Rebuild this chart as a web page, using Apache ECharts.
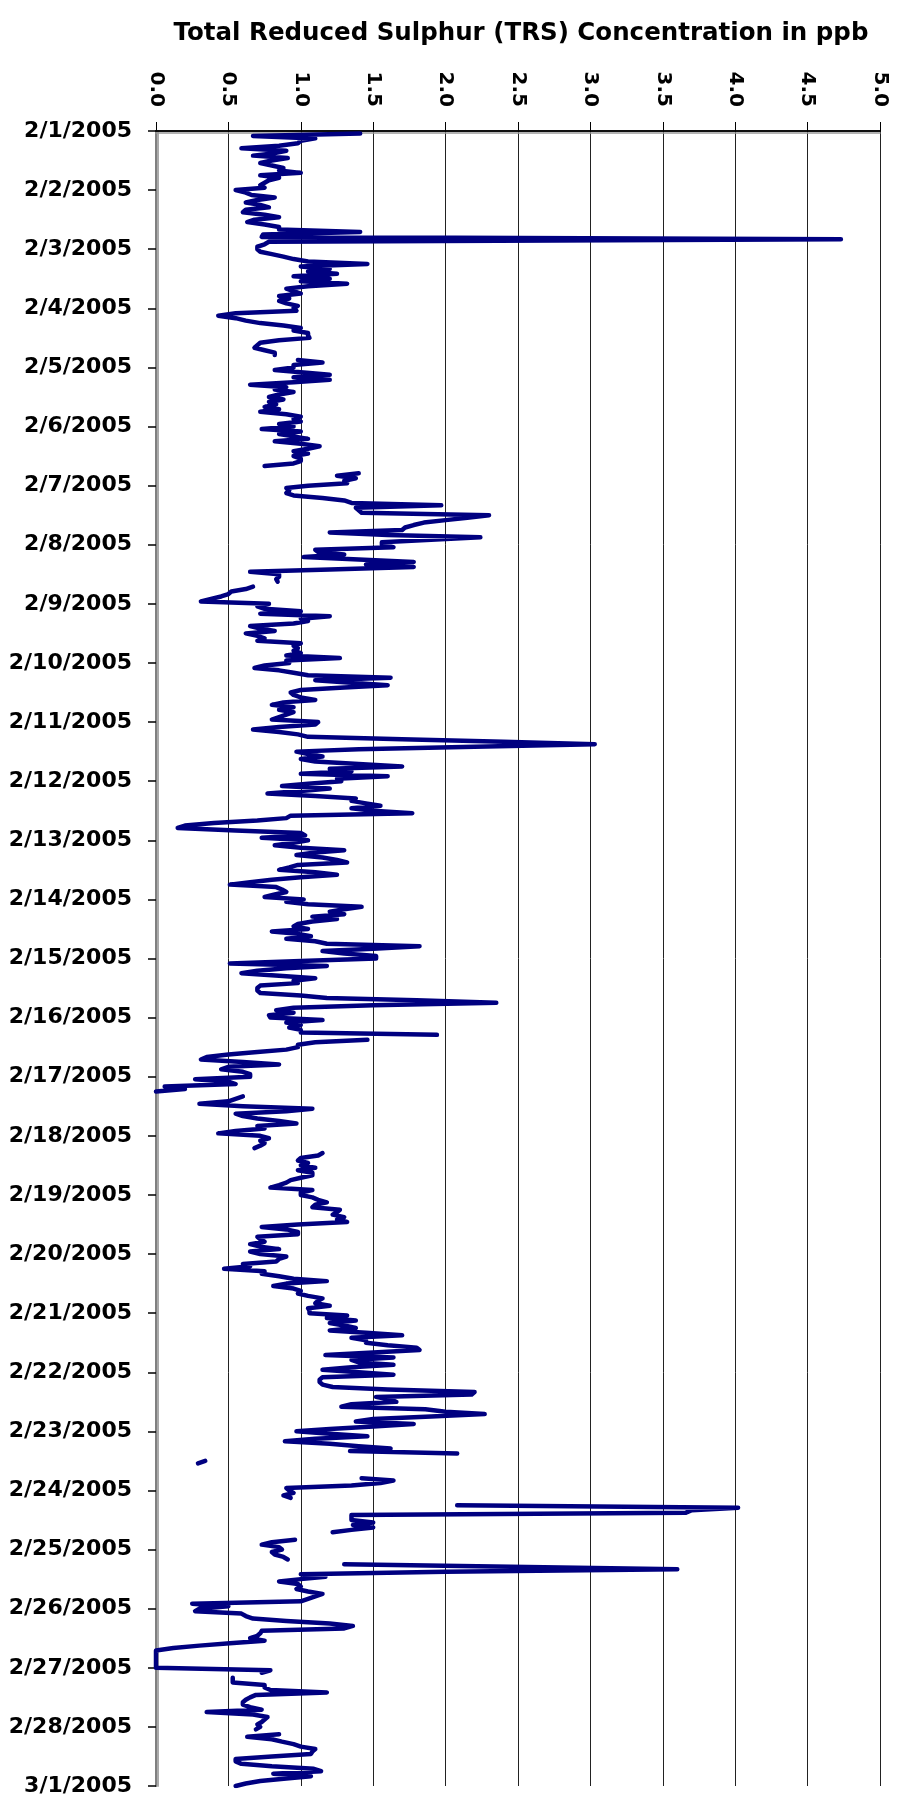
<!DOCTYPE html>
<html><head><meta charset="utf-8">
<script src="https://cdn.jsdelivr.net/npm/echarts@6/dist/echarts.min.js"></script>
<style>html,body{margin:0;padding:0;background:#fff}#chart{width:898px;height:1797px}</style>
</head><body><div id="chart"></div>
<script>
// Tick labels
const dateLabels = ['2/1/2005','2/2/2005','2/3/2005','2/4/2005','2/5/2005','2/6/2005','2/7/2005','2/8/2005','2/9/2005','2/10/2005','2/11/2005','2/12/2005','2/13/2005','2/14/2005','2/15/2005','2/16/2005','2/17/2005','2/18/2005','2/19/2005','2/20/2005','2/21/2005','2/22/2005','2/23/2005','2/24/2005','2/25/2005','2/26/2005','2/27/2005','2/28/2005','3/1/2005'];
const ppbLabels = ['0.0','0.5','1.0','1.5','2.0','2.5','3.0','3.5','4.0','4.5','5.0'];

// Hourly TRS values (ppb), one array per day, hour 0..23 ('-' = no data)
const d01 = ['-',1.41,0.67,1.1,1.0,0.98,0.85,0.59,0.9,0.82,0.67,0.91,0.8,0.72,0.8,0.88,0.85,1.0,0.72,0.85,0.78,0.75,0.72,0.75];
const d02 = [0.55,0.62,0.66,0.82,0.7,0.62,0.72,0.78,0.62,0.6,0.75,0.85,0.68,0.63,0.75,0.85,0.85,1.41,0.74,0.73,4.73,0.78,0.75,0.7];
const d03 = [0.7,0.72,0.8,0.88,0.95,1.05,1.46,1.0,1.2,1.05,1.25,0.95,1.2,1.0,1.32,1.05,0.9,0.95,1.0,0.85,0.92,0.85,0.9,0.98];
const d04 = [0.95,0.97,0.55,0.43,0.55,0.62,0.72,0.88,1.0,0.95,1.05,1.05,1.06,0.85,0.72,0.7,0.68,0.75,0.82,0.82,'-',0.98,1.15,0.95];
const d05 = [0.95,0.82,1.0,1.2,0.95,1.2,0.95,0.65,0.9,0.82,0.95,0.85,0.78,0.88,0.78,0.83,0.75,0.85,0.72,0.9,1.0,0.95,1.0,0.85];
const d06 = [0.95,0.73,1.0,0.85,0.95,1.05,0.82,1.0,1.13,1.05,0.95,1.05,0.95,1.0,1.0,0.95,0.75,'-','-',1.4,1.25,1.38,1.3,1.32];
const d07 = [1.05,0.9,0.92,0.9,0.95,1.15,1.3,1.35,1.97,1.38,1.4,1.42,2.3,2.15,2.0,1.85,1.78,1.72,1.7,1.2,1.6,2.24,1.9,1.56];
const d08 = [1.56,1.64,1.1,1.12,1.3,1.02,1.4,1.78,1.45,1.78,1.2,0.65,0.85,0.85,0.83,0.84,'-',0.67,0.62,0.52,0.5,0.45,0.38,0.31];
const d09 = [0.78,0.7,0.75,1.0,0.72,1.2,1.0,1.05,0.95,0.65,0.72,0.82,0.62,0.7,0.75,0.7,1.0,0.95,0.98,0.95,1.0,0.9,1.27,0.9];
const d10 = [0.92,0.75,0.68,0.85,0.95,1.05,1.62,1.1,1.35,1.6,1.3,1.0,0.93,0.95,1.0,1.1,0.88,0.8,0.95,0.85,0.95,0.9,0.85,0.8];
const d11 = [1.12,1.1,0.85,0.67,0.85,0.98,1.05,1.7,2.4,3.03,2.2,1.4,0.97,1.05,1.15,1.0,1.1,1.4,1.7,1.2,1.35,1.0,1.6,1.25];
const d12 = [1.28,1.05,0.87,1.2,1.0,0.77,1.1,1.38,1.35,1.45,1.55,1.35,1.5,1.77,0.93,0.9,0.7,0.4,0.2,0.15,0.55,1.0,1.03,0.73];
const d13 = [1.05,0.95,0.82,1.0,1.3,1.1,0.97,1.15,1.25,1.32,0.98,0.92,0.85,1.1,1.25,1.0,0.8,0.65,0.51,0.83,0.87,0.9,0.82,0.75];
const d14 = [1.02,0.9,1.05,1.42,1.3,1.2,1.3,1.08,1.25,1.08,0.98,0.95,1.05,0.8,0.98,1.07,0.9,1.1,1.18,1.82,1.5,1.15,1.3,1.52];
const d15 = [1.52,1.0,0.51,1.18,0.9,0.7,0.59,0.85,1.1,0.95,0.98,0.72,0.7,0.7,0.72,1.0,1.18,1.8,2.35,1.5,0.95,0.83,0.95,0.78];
const d16 = [0.79,1.15,0.9,1.0,0.92,1.0,1.0,1.94,'-',1.46,1.1,0.98,0.98,0.9,0.7,0.5,0.35,0.31,0.6,0.85,0.5,0.45,0.6,0.65];
const d17 = [0.65,0.27,0.5,0.55,0.06,0.2,0.0,'-',0.6,0.55,0.5,0.3,0.6,1.08,0.9,0.55,0.6,0.7,0.85,0.97,0.7,0.75,0.55,0.43];
const d18 = [0.72,0.78,0.72,0.75,0.72,0.68,'-',1.15,1.12,1.0,0.98,1.05,1.0,1.1,0.98,1.08,1.08,1.0,0.93,0.9,0.85,0.79,1.08,1.0];
const d19 = [1.0,1.08,1.12,1.18,1.1,1.08,1.27,1.25,1.22,1.3,1.25,1.32,0.98,0.73,0.9,0.98,0.98,0.7,0.72,0.75,0.65,0.72,0.85,0.65];
const d20 = [0.72,0.9,0.85,0.83,0.6,0.65,0.47,0.75,0.73,0.85,0.95,1.18,0.9,0.81,0.95,1.0,0.98,1.05,1.15,1.12,1.1,1.2,1.05,1.06];
const d21 = [1.06,1.32,1.18,1.38,1.2,1.3,1.38,1.2,1.45,1.7,1.35,1.45,1.45,1.6,1.8,1.82,1.5,1.17,1.64,1.35,1.4,1.64,1.35,1.15];
const d22 = [1.4,1.64,1.15,1.13,1.13,1.15,1.22,1.6,2.2,2.18,1.52,1.6,1.66,1.35,1.28,1.86,2.0,2.27,1.9,1.5,1.38,1.78,1.5,1.2];
const d23 = [0.97,1.2,1.46,1.1,0.89,1.2,1.4,1.62,1.34,2.08,'-','-',0.34,0.29,'-','-','-','-','-',1.42,1.64,1.55,1.35,0.9];
const d24 = [0.92,0.95,0.88,0.93,'-','-',2.08,4.02,3.7,3.66,1.35,1.35,1.35,1.5,1.36,1.5,1.35,1.22,'-','-',0.96,0.8,0.73,0.85];
const d25 = [0.87,0.8,0.82,0.88,0.91,'-',1.3,2.45,3.6,2.0,1.0,1.17,1.0,0.85,0.98,1.0,0.97,1.05,1.15,1.1,1.05,1.0,0.25,0.5];
const d26 = [0.3,0.27,0.59,0.62,0.67,0.9,1.2,1.36,1.3,0.73,0.72,0.7,0.65,0.75,0.51,0.3,0.12,0.0,0.0,0.0,0.0,0.0,0.0,0.0];
const d27 = [0.0,0.79,0.73,'-',0.53,0.53,0.53,0.75,0.75,0.79,1.18,0.69,0.65,0.62,0.6,0.6,0.65,0.73,0.35,0.67,0.77,0.75,0.73,0.7];
const d28 = [0.72,0.69,'-',0.85,0.63,0.8,0.87,0.95,1.0,1.1,1.08,1.07,0.8,0.55,0.55,0.59,0.8,1.09,1.14,0.81,1.07,0.9,0.72,0.62];
const dEnd = [0.55]; // 3/1/2005 00:00

const days = [d01,d02,d03,d04,d05,d06,d07,d08,d09,d10,d11,d12,d13,d14,d15,d16,d17,d18,d19,d20,d21,d22,d23,d24,d25,d26,d27,d28,dEnd];
const hourly = [].concat(...days);
const seriesData = hourly.map((v, i) => [v, i]);

const chart = echarts.init(document.getElementById('chart'), null, {renderer: 'canvas'});
const font = 'DejaVu Sans';
chart.setOption({
  animation: false,
  backgroundColor: '#ffffff',
  title: {
    text: 'Total Reduced Sulphur (TRS) Concentration in ppb',
    left: 516, top: 16, textAlign: 'center',
    textStyle: {fontFamily: font, fontWeight: 'bold', fontSize: 24.5, color: '#000'}
  },
  grid: {left: 156, right: 18, top: 131, bottom: 9, containLabel: false},
  xAxis: [{
    type: 'value', position: 'top', min: 0, max: 5, interval: 0.5,
    axisLine: {show: true, lineStyle: {color: '#000', width: 1.5}},
    axisTick: {show: true, length: 9, lineStyle: {color: '#000', width: 1}},
    axisLabel: {rotate: -90, margin: 24, fontFamily: font, fontWeight: 'bold', fontSize: 20, color: '#000',
      formatter: v => ppbLabels[Math.round(v / 0.5)]},
    splitLine: {show: true, lineStyle: {color: '#222', width: 1}}
  }, {
    type: 'value', position: 'bottom', min: 0, max: 5, interval: 0.5,
    axisLine: {show: true, lineStyle: {color: '#000', width: 1.5, shadowColor: '#999', shadowOffsetY: 2}},
    axisTick: {show: false}, axisLabel: {show: false}, splitLine: {show: false}
  }],
  yAxis: [{
    type: 'value', inverse: true, min: 0, max: 672, interval: 24,
    axisLine: {show: true, lineStyle: {color: '#808080', width: 2}},
    axisTick: {show: true, length: 8, lineStyle: {color: '#000', width: 1.5}},
    axisLabel: {margin: 24, fontFamily: font, fontWeight: 'bold', fontSize: 22, color: '#000',
      formatter: v => dateLabels[Math.round(v / 24)]},
    splitLine: {show: false}
  }, {
    type: 'value', position: 'right', inverse: true, min: 0, max: 672, interval: 24,
    axisLine: {show: true, lineStyle: {color: '#808080', width: 2, shadowColor: '#aaa', shadowOffsetX: 2}},
    axisTick: {show: false}, axisLabel: {show: false}, splitLine: {show: false}
  }],
  series: [{
    type: 'line', xAxisIndex: 0, yAxisIndex: 0,
    data: seriesData,
    showSymbol: false, symbol: 'none', connectNulls: false, clip: true,
    lineStyle: {color: '#000080', width: 4.5, cap: 'round', join: 'round'},
    emphasis: {disabled: true}
  }]
});
</script>
</body></html>
